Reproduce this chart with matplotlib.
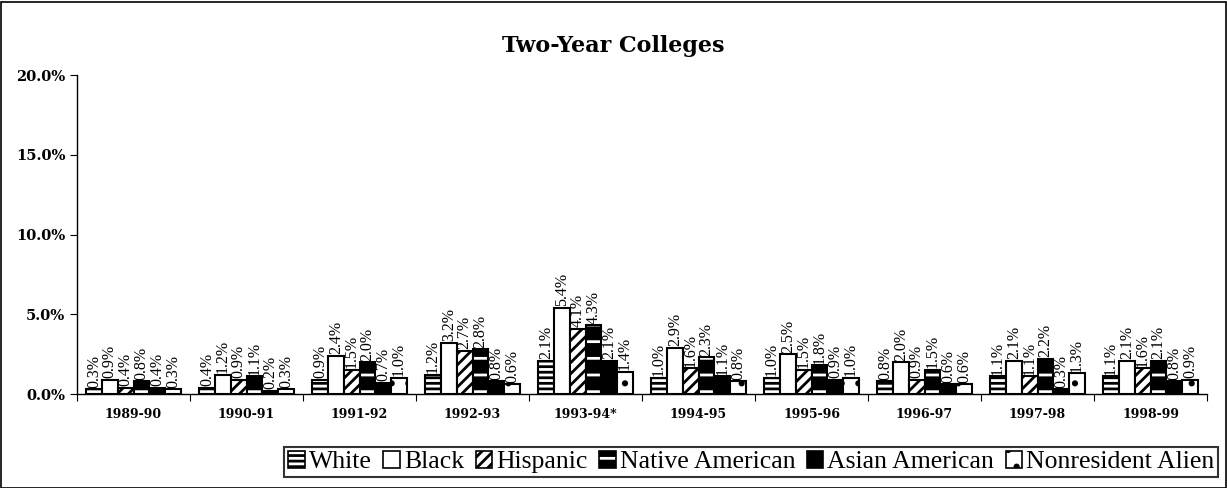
import matplotlib
matplotlib.use("Agg")
import matplotlib.pyplot as plt
import numpy as np
from matplotlib.patches import Rectangle, Patch
from matplotlib.ticker import FuncFormatter, FixedLocator
from matplotlib.legend_handler import HandlerTuple

years = ["1989-90", "1990-91", "1991-92", "1992-93", "1993-94*", "1994-95",
         "1995-96", "1996-97", "1997-98", "1998-99"]
groups = ["White", "Black", "Hispanic", "Native American", "Asian American", "Nonresident Alien"]
white    = [0.3, 0.4, 0.9, 1.2, 2.1, 1.0, 1.0, 0.8, 1.1, 1.1]
black    = [0.9, 1.2, 2.4, 3.2, 5.4, 2.9, 2.5, 2.0, 2.1, 2.1]
hispanic = [0.4, 0.9, 1.5, 2.7, 4.1, 1.6, 1.5, 0.9, 1.1, 1.6]
native   = [0.8, 1.1, 2.0, 2.8, 4.3, 2.3, 1.8, 1.5, 2.2, 2.1]
asian    = [0.4, 0.2, 0.7, 0.8, 2.1, 1.1, 0.9, 0.6, 0.3, 0.8]
nonres   = [0.3, 0.3, 1.0, 0.6, 1.4, 0.8, 1.0, 0.6, 1.3, 0.9]
series = [white, black, hispanic, native, asian, nonres]

# style: (facecolor, hatch, hatchcolor)
styles = [("black", "---", "white"),
          ("white", "", "black"),
          ("white", "///", "black"),
          ("black", "-", "white"),
          ("black", "", "black"),
          ("white", ".", "black")]

plt.rcParams["font.family"] = ["DejaVu Serif"]
plt.rcParams["hatch.linewidth"] = 2.0

fig = plt.figure(figsize=(12.27, 4.88), dpi=100)
ax = fig.add_axes([0.0628, 0.1926, 0.9837 - 0.0628, 0.8463 - 0.1926])

x = np.arange(len(years))
bw = 0.14
for i, (vals, (fc, hatch, hc)) in enumerate(zip(series, styles)):
    pos = x + (i - 2.5) * bw
    if hatch:
        ax.bar(pos, vals, bw, color=fc, edgecolor=hc, hatch=hatch, linewidth=0)
        ax.bar(pos, vals, bw, fill=False, edgecolor="black", linewidth=1.5)
    else:
        ax.bar(pos, vals, bw, color=fc, edgecolor="black", linewidth=1.5)
    for p, v in zip(pos, vals):
        ax.text(p, v + 0.1, f"{v:.1f}%", rotation=90, ha="center", va="bottom",
                fontsize=11.5, family=["Liberation Serif"])

ax.set_xlim(-0.5, len(years) - 0.5)
ax.set_ylim(0, 20)
ax.set_yticks([0, 5, 10, 15, 20])
ax.yaxis.set_major_formatter(FuncFormatter(lambda v, p: f"{v:.1f}%"))
ax.xaxis.set_major_locator(FixedLocator(np.arange(-0.5, len(years), 1.0)))
ax.set_xticklabels([])
ax.xaxis.set_minor_locator(FixedLocator(x))
ax.set_xticklabels(years, minor=True)
ax.tick_params(axis="x", which="minor", length=0, pad=10, labelsize=9)
ax.tick_params(axis="x", which="major", length=5, direction="out")
ax.tick_params(axis="y", length=5, labelsize=10.5)
for lab in ax.get_xticklabels(minor=True) + ax.get_yticklabels():
    lab.set_fontweight("bold")
for s in ["top", "right"]:
    ax.spines[s].set_visible(False)
ax.spines["left"].set_linewidth(1)
ax.spines["bottom"].set_linewidth(1)

fig.text(0.5, 0.905, "Two-Year Colleges", ha="center", va="center",
         fontsize=16, fontweight="bold")

handles = []
for g, (fc, hatch, hc) in zip(groups, styles):
    if hatch:
        inner = Patch(facecolor=fc, edgecolor=hc, hatch=hatch, linewidth=0)
        outer = Patch(fill=False, edgecolor="black", linewidth=1.2)
        handles.append((inner, outer))
    else:
        handles.append(Patch(facecolor=fc, edgecolor="black", linewidth=1.2))
leg = fig.legend(handles=handles, labels=groups, loc="lower right",
                 bbox_to_anchor=(0.993, 0.022),
                 handler_map={tuple: HandlerTuple(ndivide=1, pad=0)},
                 ncol=6, frameon=True, fancybox=False,
                 prop={"family": "Liberation Serif", "size": 18.5},
                 handlelength=0.65, handleheight=0.65, handletextpad=0.15,
                 columnspacing=0.45, borderpad=0.15, borderaxespad=0)
leg.get_frame().set_edgecolor("black")
leg.get_frame().set_linewidth(1.5)

fig.patches.append(Rectangle((0.001, 0.001), 0.998, 0.994, transform=fig.transFigure,
                             fill=False, edgecolor="black", linewidth=1.2))

fig.savefig("out.png", dpi=100)
